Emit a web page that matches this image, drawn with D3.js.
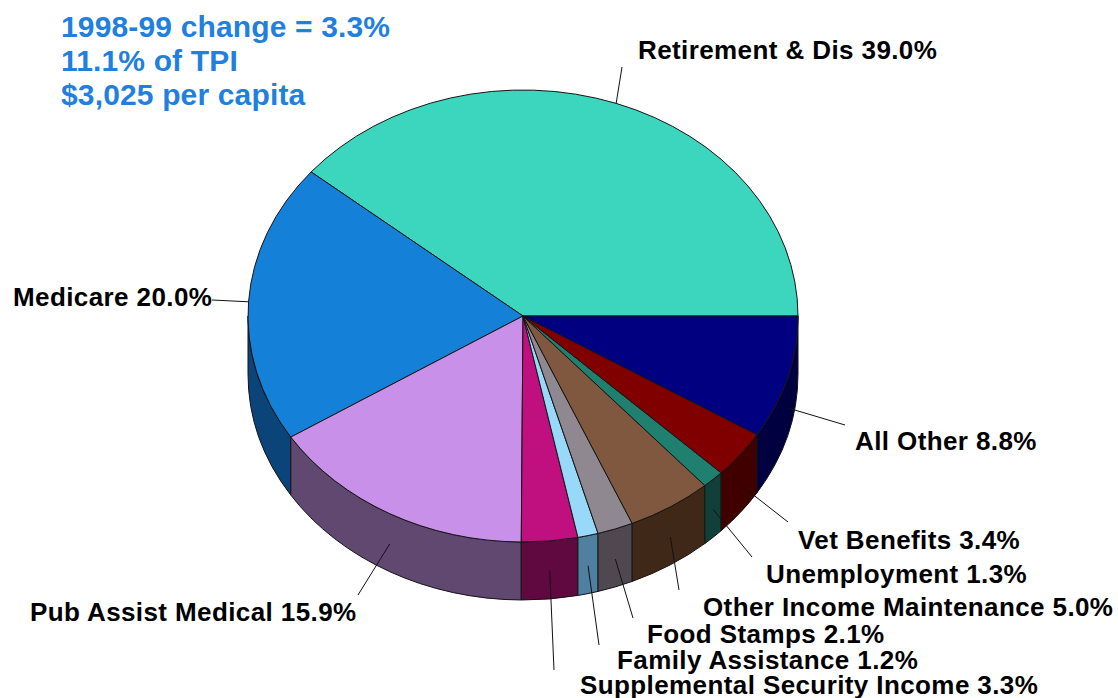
<!DOCTYPE html>
<html>
<head>
<meta charset="utf-8">
<script src="https://cdn.jsdelivr.net/npm/d3@7"></script>
<style>
  html, body { margin: 0; padding: 0; background: #ffffff; }
  svg { display: block; }
  text { font-family: "Liberation Sans", Arial, Helvetica, sans-serif; font-weight: bold; }
</style>
</head>
<body>
<svg id="chart" width="1118" height="698"></svg>
<script>
// ---- data ----
const categories = ["Retirement & Dis", "Medicare", "Pub Assist Medical",
  "Supplemental Security Income", "Family Assistance", "Food Stamps",
  "Other Income Maintenance", "Unemployment", "Vet Benefits", "All Other"];
const shares = [39.0, 20.0, 15.9, 3.3, 1.2, 2.1, 5.0, 1.3, 3.4, 8.8];
const topColors = ["#3cd6be", "#1480d8", "#c890e8", "#c01080", "#98d8f8",
  "#908890", "#805840", "#208070", "#800000", "#000080"];
const sideColors = ["#1e6b5f", "#0a4478", "#604870", "#600840", "#5080a0",
  "#504850", "#402818", "#104038", "#400000", "#000040"];
const headerLines = ["1998-99 change = 3.3%", "11.1% of TPI", "$3,025 per capita"];

// ---- layout (label anchors and leader ends) ----
const labelAt = [[638, 59], [13, 306], [30, 621], [580, 694], [617, 669],
  [647, 643], [703, 616], [766, 583], [798, 549], [855, 450]];
const leaderEnd = [[622, 67], [212, 300], [358, 595], [554, 670], [599, 645],
  [633, 618], [679, 590], [752, 557], [788, 522], [845, 425]];

const svg = d3.select("#chart");
const cx = 523, cy = 316, rx = 275, ry = 226, depth = 58;

const pie = d3.pie().sort(null).startAngle(0).endAngle(2 * Math.PI);
const arcs = pie(shares);

// angle a measured counter-clockwise from east (screen y up)
const px = a => cx + rx * Math.cos(a);
const py = (a, dz = 0) => cy - ry * Math.sin(a) + dz;

// ---- side walls (front half: pi .. 2pi) ----
const sideG = svg.append("g");
arcs.forEach((d, i) => {
  const b0 = Math.max(d.startAngle, Math.PI);
  const b1 = Math.min(d.endAngle, 2 * Math.PI);
  if (b1 <= b0) return;
  const p = `M${px(b0)},${py(b0)} A${rx},${ry} 0 0 0 ${px(b1)},${py(b1)}`
    + ` L${px(b1)},${py(b1, depth)} A${rx},${ry} 0 0 1 ${px(b0)},${py(b0, depth)} Z`;
  sideG.append("path").attr("d", p)
    .attr("fill", sideColors[i])
    .attr("stroke", "#141414").attr("stroke-width", 1).attr("stroke-linejoin", "round");
});

// ---- top faces ----
const topG = svg.append("g");
arcs.forEach((d, i) => {
  const a0 = d.startAngle, a1 = d.endAngle;
  const large = (a1 - a0) > Math.PI ? 1 : 0;
  const p = `M${cx},${cy} L${px(a0)},${py(a0)} A${rx},${ry} 0 ${large} 0 ${px(a1)},${py(a1)} Z`;
  topG.append("path").attr("d", p)
    .attr("fill", topColors[i])
    .attr("stroke", "#141414").attr("stroke-width", 1).attr("stroke-linejoin", "round");
});

// ---- leader lines ----
const leadG = svg.append("g");
arcs.forEach((d, i) => {
  const m = (d.startAngle + d.endAngle) / 2;
  const front = Math.sin(m) < -0.2;
  const x0 = px(m), y0 = py(m, front ? depth * 0.52 : 0);
  leadG.append("line")
    .attr("x1", x0).attr("y1", y0)
    .attr("x2", leaderEnd[i][0]).attr("y2", leaderEnd[i][1])
    .attr("stroke", "#111").attr("stroke-width", 1);
});

// ---- labels ----
const labG = svg.append("g");
arcs.forEach((d, i) => {
  labG.append("text")
    .attr("x", labelAt[i][0]).attr("y", labelAt[i][1])
    .attr("font-size", 26).attr("letter-spacing", 0.4)
    .attr("fill", "#000")
    .text(`${categories[i]} ${d3.format(".1f")(shares[i])}%`);
});

// ---- header ----
const hdr = svg.append("g");
headerLines.forEach((t, i) => {
  hdr.append("text")
    .attr("x", 61).attr("y", 37 + i * 34)
    .attr("font-size", 30).attr("letter-spacing", 0.15)
    .attr("fill", "#1f80e0")
    .text(t);
});
</script>
</body>
</html>
